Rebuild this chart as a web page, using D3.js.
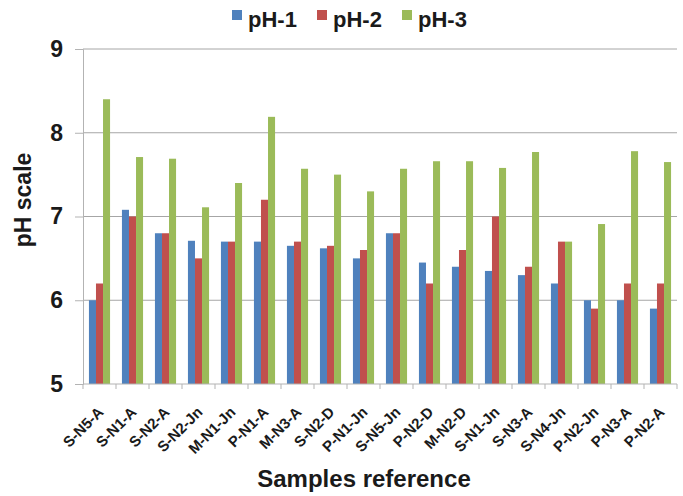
<!DOCTYPE html>
<html>
<head>
<meta charset="utf-8">
<script src="https://cdn.jsdelivr.net/npm/d3@7"></script>
<style>
  body { margin: 0; background: #fff; }
  text { font-family: "Liberation Sans", Arial, sans-serif; font-weight: bold; fill: #1a1a1a; }
</style>
</head>
<body>
<div id="chart"></div>
<script>
// data
var samples = ["S-N5-A", "S-N1-A", "S-N2-A", "S-N2-Jn", "M-N1-Jn", "P-N1-A", "M-N3-A", "S-N2-D", "P-N1-Jn",
  "S-N5-Jn", "P-N2-D", "M-N2-D", "S-N1-Jn", "S-N3-A", "S-N4-Jn", "P-N2-Jn", "P-N3-A", "P-N2-A"];
var seriesNames = ["pH-1", "pH-2", "pH-3"];
var ph1 = [6.0, 7.08, 6.8, 6.71, 6.7, 6.7, 6.65, 6.62, 6.5, 6.8, 6.45, 6.4, 6.35, 6.3, 6.2, 6.0, 6.0, 5.9];
var ph2 = [6.2, 7.0, 6.8, 6.5, 6.7, 7.2, 6.7, 6.65, 6.6, 6.8, 6.2, 6.6, 7.0, 6.4, 6.7, 5.9, 6.2, 6.2];
var ph3 = [8.4, 7.71, 7.69, 7.11, 7.4, 8.19, 7.57, 7.5, 7.3, 7.57, 7.66, 7.66, 7.58, 7.77, 6.7, 6.91, 7.78, 7.65];
var yTicks = [5, 6, 7, 8, 9];

var colors = ["#4f81bd", "#c0504d", "#9bbb59"];
var allSeries = [ph1, ph2, ph3];

var svgWidth = 683;
var svgHeight = 496;
var margin = { top: 49, right: 6, bottom: 112, left: 83 };
var width = svgWidth - margin.left - margin.right;
var height = svgHeight - margin.top - margin.bottom;

var svg = d3.select("#chart")
  .append("svg")
  .attr("width", svgWidth)
  .attr("height", svgHeight);

var chartGroup = svg.append("g")
  .attr("transform", `translate(${margin.left}, ${margin.top})`);

// scales
var x0 = d3.scaleBand()
  .domain(samples)
  .range([0, width])
  .paddingInner(0.36)
  .paddingOuter(0.18);

var x1 = d3.scaleBand()
  .domain(seriesNames)
  .range([0, x0.bandwidth()]);

var y = d3.scaleLinear()
  .domain([5, 9])
  .range([height, 0]);

// gridlines
chartGroup.append("g")
  .selectAll("line")
  .data(yTicks.slice(1))
  .enter()
  .append("line")
  .attr("x1", 0)
  .attr("x2", width)
  .attr("y1", d => y(d))
  .attr("y2", d => y(d))
  .attr("stroke", "#a6a6a6")
  .attr("stroke-width", 1);

// bars
var rows = samples.map(function(s, i) {
  return { sample: s, values: seriesNames.map((n, j) => ({ name: n, value: allSeries[j][i], color: colors[j] })) };
});

chartGroup.selectAll(".group")
  .data(rows)
  .enter()
  .append("g")
  .attr("transform", d => `translate(${x0(d.sample)}, 0)`)
  .selectAll("rect")
  .data(d => d.values)
  .enter()
  .append("rect")
  .attr("x", d => x1(d.name))
  .attr("width", x1.bandwidth())
  .attr("y", d => y(d.value))
  .attr("height", d => height - y(d.value))
  .attr("fill", d => d.color);

// y axis
var leftAxis = d3.axisLeft(y).tickValues(yTicks).tickSize(8).tickPadding(12).tickFormat(d3.format("d"));
var yAxisG = chartGroup.append("g").call(leftAxis);
yAxisG.select(".domain").attr("stroke", "#b3b3b3");
yAxisG.selectAll(".tick line").attr("stroke", "#b3b3b3");
yAxisG.selectAll(".tick text")
  .attr("font-size", 23)
  .attr("fill", "#1a1a1a");

// x axis (ticks between categories)
var step = x0.step();
var xAxisG = chartGroup.append("g").attr("transform", `translate(0, ${height})`);
xAxisG.append("line")
  .attr("x1", 0).attr("x2", width)
  .attr("stroke", "#b3b3b3");
xAxisG.selectAll(".sep")
  .data(d3.range(samples.length + 1))
  .enter()
  .append("line")
  .attr("x1", d => d * step)
  .attr("x2", d => d * step)
  .attr("y1", 0)
  .attr("y2", 5)
  .attr("stroke", "#b3b3b3");

xAxisG.selectAll(".lbl")
  .data(samples)
  .enter()
  .append("text")
  .attr("transform", d => `translate(${x0(d) + x0.bandwidth() / 2 + 5}, 29) rotate(-45)`)
  .attr("text-anchor", "end")
  .attr("font-size", 15)
  .text(d => d);

// axis titles
svg.append("text")
  .attr("transform", "translate(31, 200) rotate(-90)")
  .attr("text-anchor", "middle")
  .attr("font-size", 23)
  .text("pH scale");

svg.append("text")
  .attr("x", 364)
  .attr("y", 487)
  .attr("text-anchor", "middle")
  .attr("font-size", 24)
  .text("Samples reference");

// legend
var legendX = [232, 317, 402];
var legend = svg.selectAll(".legend")
  .data(seriesNames)
  .enter()
  .append("g")
  .attr("transform", (d, i) => `translate(${legendX[i]}, 0)`);

legend.append("rect")
  .attr("x", 0).attr("y", 10)
  .attr("width", 10).attr("height", 10)
  .attr("fill", (d, i) => colors[i]);

legend.append("text")
  .attr("x", 16)
  .attr("y", 27)
  .attr("font-size", 22)
  .text(d => d);
</script>
</body>
</html>
